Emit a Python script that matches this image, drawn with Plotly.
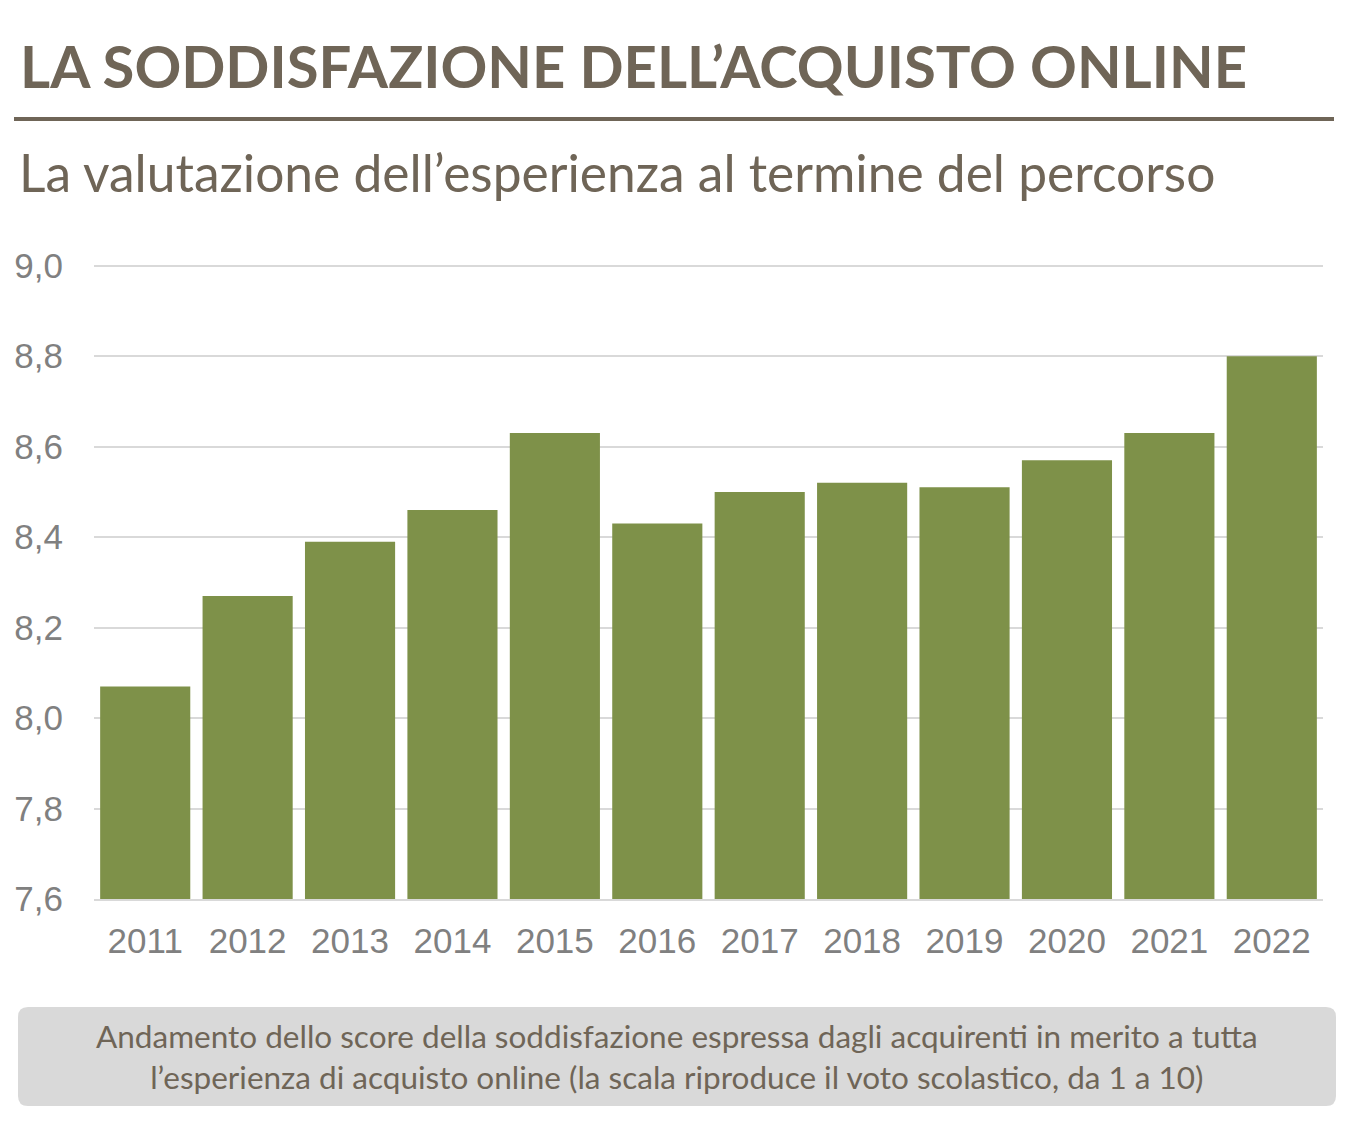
import plotly.graph_objects as go

years = ["2011", "2012", "2013", "2014", "2015", "2016", "2017", "2018", "2019", "2020", "2021", "2022"]
scores = [8.07, 8.27, 8.39, 8.46, 8.63, 8.43, 8.50, 8.52, 8.51, 8.57, 8.63, 8.80]
y_ticks = [7.6, 7.8, 8.0, 8.2, 8.4, 8.6, 8.8, 9.0]
y_tick_labels = ["7,6", "7,8", "8,0", "8,2", "8,4", "8,6", "8,8", "9,0"]

title_text = "LA SODDISFAZIONE DELL\u2019ACQUISTO ONLINE"
subtitle_text = "La valutazione dell\u2019esperienza al termine del percorso"
caption_text = ("Andamento dello score della soddisfazione espressa dagli acquirenti in merito a tutta<br>"
                "l\u2019esperienza di acquisto online (la scala riproduce il voto scolastico, da 1 a 10)")

W, H = 1356, 1124
ML, MR, MT, MB = 94, 33, 263, 225
PW, PH = W - ML - MR, H - MT - MB

BROWN = "#6f6557"
GREEN = "#7e9149"


def px(x):
    return (x - ML) / PW


def py(y):
    return (H - MB - y) / PH


fig = go.Figure()
fig.add_trace(go.Bar(x=years, y=scores, marker=dict(color=GREEN, line=dict(width=0)),
                     hoverinfo="x+y"))

# caption box with rounded corners
x0, x1, y0, y1, r = px(18), px(1336), py(1106), py(1007), 10
rx, ry = r / PW, r / PH
path = (f"M {x0+rx},{y1} L {x1-rx},{y1} Q {x1},{y1} {x1},{y1-ry} "
        f"L {x1},{y0+ry} Q {x1},{y0} {x1-rx},{y0} L {x0+rx},{y0} "
        f"Q {x0},{y0} {x0},{y0+ry} L {x0},{y1-ry} Q {x0},{y1} {x0+rx},{y1} Z")

fig.update_layout(
    width=W, height=H,
    margin=dict(l=ML, r=MR, t=MT, b=MB),
    paper_bgcolor="white", plot_bgcolor="white",
    bargap=0.12,
    showlegend=False,
    yaxis=dict(range=[7.6, 9.006], tickvals=y_ticks, ticktext=y_tick_labels,
               showgrid=True, gridcolor="#d9d9d9", gridwidth=2, zeroline=False,
               tickfont=dict(family="Liberation Sans, Arial", size=35, color="#808080"),
               ticks="", ticklabelstandoff=30, showline=False),
    xaxis=dict(showline=True, linecolor="#d9d9d9", linewidth=2, ticks="",
               tickfont=dict(family="Liberation Sans, Arial", size=35, color="#808080"),
               ticklabelstandoff=10),
    shapes=[
        dict(type="line", xref="paper", yref="paper", x0=px(14), x1=px(1334), y0=py(119), y1=py(119),
             line=dict(color=BROWN, width=4)),
        dict(type="path", xref="paper", yref="paper", path=path,
             fillcolor="#d9d9d9", line=dict(width=0), layer="below"),
    ],
    annotations=[
        dict(text=f"<b>{title_text}</b>", xref="paper", yref="paper", x=px(18), y=py(66),
             xanchor="left", yanchor="middle", showarrow=False,
             font=dict(family="Lato", size=58, color=BROWN)),
        dict(text=subtitle_text, xref="paper", yref="paper", x=px(17), y=py(172),
             xanchor="left", yanchor="middle", showarrow=False,
             font=dict(family="Lato", size=51.5, color=BROWN)),
        dict(text=caption_text, xref="paper", yref="paper", x=px(677), y=py(1056),
             xanchor="center", yanchor="middle", showarrow=False, align="center",
             font=dict(family="Lato", size=31.5, color=BROWN)),
    ],
)

fig.write_html("out.html")
